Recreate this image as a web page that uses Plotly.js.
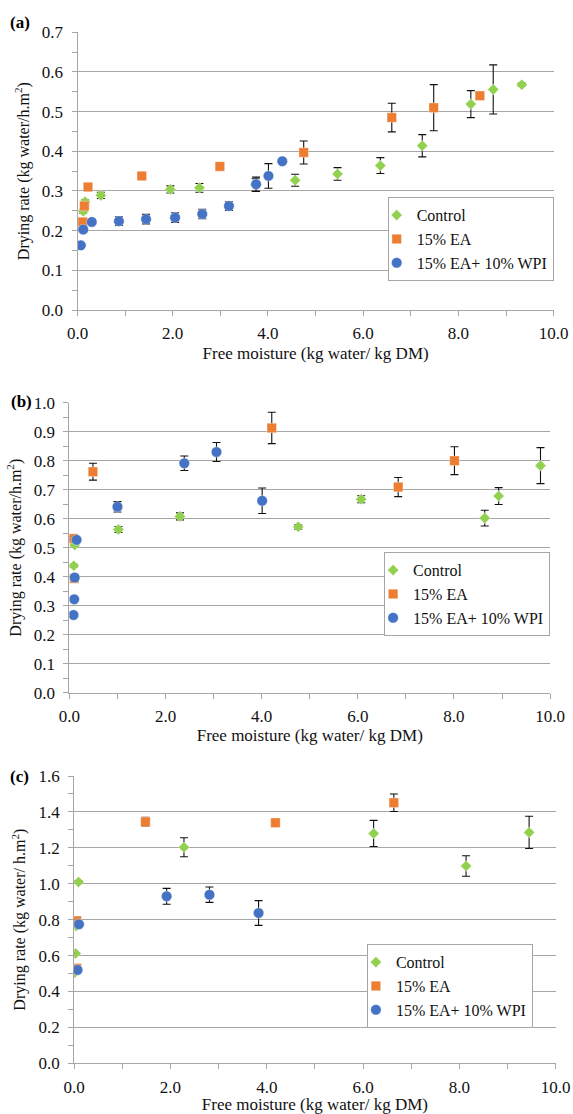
<!DOCTYPE html>
<html>
<head>
<meta charset="utf-8">
<script src="https://cdn.plot.ly/plotly-3.0.1.min.js"></script>
<style>html,body{margin:0;padding:0;background:#fff;}#chart{width:573px;height:1114px;}</style>
</head>
<body>
<div id="chart"></div>
<script>
// ---------- Data ----------
const seriesNames = ["Control", "15% EA", "15% EA+ 10% WPI"];
const xTickVals = [0, 2, 4, 6, 8, 10];

// Panel (a)
const a_ctrl_x = [0.12, 0.16, 0.49, 1.95, 2.56, 3.74, 4.57, 5.46, 6.36, 7.24, 8.26, 8.73, 9.33];
const a_ctrl_y = [0.249, 0.273, 0.289, 0.304, 0.308, 0.315, 0.327, 0.343, 0.364, 0.414, 0.519, 0.556, 0.568];
const a_ctrl_e = [0.005, 0.005, 0.008, 0.009, 0.011, 0.016, 0.015, 0.016, 0.02, 0.028, 0.034, 0.062, 0.004];
const a_ea_x = [0.11, 0.145, 0.22, 1.35, 2.99, 4.75, 6.60, 7.48, 8.45];
const a_ea_y = [0.222, 0.262, 0.31, 0.338, 0.362, 0.397, 0.485, 0.51, 0.54];
const a_ea_e = [0.004, 0.004, 0.004, 0.004, 0.008, 0.029, 0.036, 0.058, 0.004];
const a_wpi_x = [0.07, 0.12, 0.30, 0.87, 1.44, 2.05, 2.62, 3.18, 3.75, 4.01, 4.30];
const a_wpi_y = [0.163, 0.203, 0.222, 0.224, 0.229, 0.233, 0.242, 0.262, 0.317, 0.338, 0.375];
const a_wpi_e = [0.003, 0.004, 0.005, 0.011, 0.012, 0.012, 0.012, 0.011, 0.018, 0.031, 0.004];

// Panel (b)
const b_ctrl_x = [0.09, 0.11, 1.02, 2.30, 4.76, 6.07, 8.64, 8.93, 9.80];
const b_ctrl_y = [0.438, 0.509, 0.563, 0.608, 0.572, 0.667, 0.602, 0.678, 0.783];
const b_ctrl_e = [0.005, 0.005, 0.01, 0.012, 0.008, 0.012, 0.027, 0.029, 0.062];
const b_ea_x = [0.08, 0.10, 0.49, 4.21, 6.84, 8.01];
const b_ea_y = [0.532, 0.394, 0.762, 0.913, 0.709, 0.80];
const b_ea_e = [0.005, 0.005, 0.029, 0.054, 0.033, 0.048];
const b_wpi_x = [0.085, 0.10, 0.11, 0.15, 1.00, 2.39, 3.06, 4.01];
const b_wpi_y = [0.268, 0.322, 0.397, 0.527, 0.641, 0.791, 0.83, 0.662];
const b_wpi_e = [0.005, 0.005, 0.005, 0.005, 0.018, 0.025, 0.033, 0.044];

// Panel (c)
const c_ctrl_x = [0.01, 0.03, 0.04, 0.09, 2.28, 6.22, 8.14, 9.45];
const c_ctrl_y = [0.504, 0.612, 0.765, 1.01, 1.203, 1.28, 1.099, 1.286];
const c_ctrl_e = [0.005, 0.005, 0.005, 0.008, 0.053, 0.073, 0.057, 0.09];
const c_ea_x = [0.05, 0.05, 1.48, 4.18, 6.64];
const c_ea_y = [0.529, 0.794, 1.345, 1.34, 1.451];
const c_ea_e = [0.008, 0.008, 0.025, 0.01, 0.049];
const c_wpi_x = [0.07, 0.10, 1.92, 2.81, 3.83];
const c_wpi_y = [0.52, 0.774, 0.93, 0.939, 0.837];
const c_wpi_e = [0.008, 0.008, 0.044, 0.043, 0.069];

// ---------- Styles ----------
const FONT = "'Liberation Serif', 'Times New Roman', serif";
const TXT = "#111";
const styles = [
  {symbol: "diamond", size: 8.5, color: "#92d050"},
  {symbol: "square", size: 9.5, color: "#ed7d31"},
  {symbol: "circle", size: 10.5, color: "#4472c4"}
];
const W = 573, H = 1114;

function trace(i, x, y, e, xa, ya, leg) {
  const s = styles[i];
  return {
    type: "scatter", mode: "markers", name: seriesNames[i],
    x: x, y: y, xaxis: xa, yaxis: ya, legend: leg,
    marker: {symbol: s.symbol, size: s.size, color: s.color, line: {width: 0.6, color: "rgba(255,255,255,0.6)"}},
    error_y: {type: "data", array: e, visible: true, color: "#111", thickness: 1.1, width: 4}
  };
}

const data = [
  trace(0, a_ctrl_x, a_ctrl_y, a_ctrl_e, "x", "y", "legend"),
  trace(1, a_ea_x, a_ea_y, a_ea_e, "x", "y", "legend"),
  trace(2, a_wpi_x, a_wpi_y, a_wpi_e, "x", "y", "legend"),
  trace(0, b_ctrl_x, b_ctrl_y, b_ctrl_e, "x2", "y2", "legend2"),
  trace(1, b_ea_x, b_ea_y, b_ea_e, "x2", "y2", "legend2"),
  trace(2, b_wpi_x, b_wpi_y, b_wpi_e, "x2", "y2", "legend2"),
  trace(0, c_ctrl_x, c_ctrl_y, c_ctrl_e, "x3", "y3", "legend3"),
  trace(1, c_ea_x, c_ea_y, c_ea_e, "x3", "y3", "legend3"),
  trace(2, c_wpi_x, c_wpi_y, c_wpi_e, "x3", "y3", "legend3")
];

const GRID = "#a6a6a6";
const FS = 17;
function xax(d, anchor, standoff) {
  return {
    domain: d, anchor: anchor, range: [0, 10], tickvals: xTickVals, tickformat: ".1f",
    showgrid: false, zeroline: false, showline: true, linecolor: GRID, linewidth: 1,
    ticks: "outside", ticklen: 5, tickcolor: GRID, tickwidth: 1,
    minor: {dtick: 1, ticks: "outside", ticklen: 5, tickcolor: GRID, showgrid: false},
    tickfont: {family: FONT, size: FS, color: TXT}, ticklabelstandoff: 3,
    fixedrange: true, automargin: false,
    title: {text: "Free moisture (kg water/ kg DM)", font: {family: FONT, size: FS, color: TXT}, standoff: standoff}
  };
}
function yax(d, anchor, max, dt, minorDt, title) {
  return {
    domain: d, anchor: anchor, range: [0, max], dtick: dt, tick0: 0, tickformat: ".1f",
    showgrid: true, gridcolor: GRID, gridwidth: 1, zeroline: false,
    showline: true, linecolor: GRID, linewidth: 1,
    ticks: "outside", ticklen: 5, tickcolor: GRID, tickwidth: 1,
    minor: {dtick: minorDt, ticks: "outside", ticklen: 5, tickcolor: GRID, showgrid: false},
    tickfont: {family: FONT, size: FS, color: TXT}, ticklabelstandoff: 5,
    fixedrange: true, automargin: false,
    title: {text: title, font: {family: FONT, size: 16, color: TXT}, standoff: 8}
  };
}
const px = v => v / W, py = v => 1 - v / H;

function legendAt(xr, yc) {
  return {
    x: px(xr), xanchor: "right", y: py(yc), yanchor: "middle",
    bgcolor: "#fff", bordercolor: GRID, borderwidth: 1,
    font: {family: FONT, size: 16, color: TXT},
    tracegroupgap: 0, itemwidth: 30, indentation: -12
  };
}

const layout = {
  width: W, height: H, margin: {l: 0, r: 0, t: 0, b: 0},
  paper_bgcolor: "#fff", plot_bgcolor: "#fff",
  font: {family: FONT, size: 16, color: TXT},
  showlegend: true,
  xaxis: xax([px(77.5), px(553.7)], "y", 4),
  yaxis: yax([py(310), py(32.3)], "x", 0.7, 0.1, 0.05, "Drying rate (kg water/h.m<sup>2</sup>)"),
  xaxis2: xax([px(69.4), px(550.1)], "y2", 0),
  yaxis2: yax([py(692.7), py(402.7)], "x2", 1.0, 0.1, 0.05, "Drying rate (kg water/h.m<sup>2</sup>)"),
  xaxis3: xax([px(74.2), px(555.6)], "y3", 0),
  yaxis3: yax([py(1063.3), py(776)], "x3", 1.6, 0.2, 0.1, "Drying rate (kg water/ h.m<sup>2</sup>)"),
  legend: legendAt(553.7, 239.2),
  legend2: legendAt(550.1, 594.2),
  legend3: legendAt(532.9, 986.2),
  annotations: [
    {text: "<b>(a)</b>", x: px(19.5), y: py(22.5), xref: "paper", yref: "paper", xanchor: "center", yanchor: "middle", showarrow: false, font: {family: FONT, size: 17, color: "#000"}},
    {text: "<b>(b)</b>", x: px(21), y: py(401), xref: "paper", yref: "paper", xanchor: "center", yanchor: "middle", showarrow: false, font: {family: FONT, size: 17, color: "#000"}},
    {text: "<b>(c)</b>", x: px(19.5), y: py(776), xref: "paper", yref: "paper", xanchor: "center", yanchor: "middle", showarrow: false, font: {family: FONT, size: 17, color: "#000"}}
  ]
};

Plotly.newPlot("chart", data, layout, {displayModeBar: false, staticPlot: true});
</script>
</body>
</html>
